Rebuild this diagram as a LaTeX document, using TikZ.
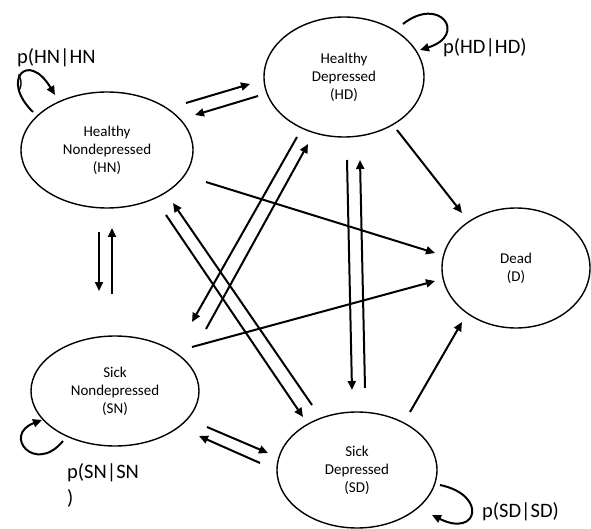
\documentclass[tikz,border=0pt]{standalone}
\usepackage{fontspec}
\setmainfont{Carlito}
\usetikzlibrary{shapes.geometric,arrows.meta}
\begin{document}
\begin{tikzpicture}[x=1pt,y=-1pt,
  state/.style={draw,ellipse,line width=1.4pt,inner sep=0pt,align=center,font=\fontsize{15}{18}\selectfont},
  conn/.style={line width=2pt,-{Triangle[length=9pt,width=8pt]}},
  plabel/.style={inner sep=0pt,anchor=west,align=left,font=\fontsize{20.5}{26}\selectfont}]
\useasboundingbox (0,0) rectangle (591,529);
% states
\node[state,minimum width=172pt,minimum height=116pt] (HN) at (107,150) {Healthy\\Nondepressed\\(HN)};
\node[state,minimum width=160pt,minimum height=120pt] (HD) at (344,77) {Healthy\\Depressed\\(HD)};
\node[state,minimum width=148pt,minimum height=120pt] (D) at (516,268) {Dead\\(D)};
\node[state,minimum width=168pt,minimum height=110pt] (SN) at (115,391) {Sick\\Nondepressed\\(SN)};
\node[state,minimum width=160pt,minimum height=116pt] (SD) at (357,470) {Sick\\Depressed\\(SD)};
% connector end points
\coordinate (hnhd1) at (186,103); \coordinate (hnhd2) at (250,84);
\coordinate (hdhn1) at (258,96);  \coordinate (hdhn2) at (195,115);
\coordinate (hnd1) at (206,182);  \coordinate (hnd2) at (435,253);
\coordinate (hdd1) at (397,130);  \coordinate (hdd2) at (462,213);
\coordinate (hdsn1) at (297,137); \coordinate (hdsn2) at (192,322);
\coordinate (snhd1) at (206,329); \coordinate (snhd2) at (308,144);
\coordinate (hnsd1) at (166,215); \coordinate (hnsd2) at (303,417);
\coordinate (sdhn1) at (312,405); \coordinate (sdhn2) at (173,203);
\coordinate (hdsd1) at (347,160); \coordinate (hdsd2) at (352,390);
\coordinate (sdhd1) at (365,388); \coordinate (sdhd2) at (360,160);
\coordinate (snd1) at (192,347);  \coordinate (snd2) at (435,281);
\coordinate (sdd1) at (410,412);  \coordinate (sdd2) at (462,322);
\coordinate (snsd1) at (207,427); \coordinate (snsd2) at (268,453);
\coordinate (sdsn1) at (260,463); \coordinate (sdsn2) at (199,436);
\coordinate (hnsn1) at (99,232);  \coordinate (hnsn2) at (99,291);
\coordinate (snhn1) at (112,294); \coordinate (snhn2) at (112,228);
% transitions
\draw[conn] (hnhd1) -- (hnhd2);
\draw[conn] (hdhn1) -- (hdhn2);
\draw[conn] (hnd1) -- (hnd2);
\draw[conn] (hdd1) -- (hdd2);
\draw[conn] (hdsn1) -- (hdsn2);
\draw[conn] (snhd1) -- (snhd2);
\draw[conn] (hnsd1) -- (hnsd2);
\draw[conn] (sdhn1) -- (sdhn2);
\draw[conn] (hdsd1) -- (hdsd2);
\draw[conn] (sdhd1) -- (sdhd2);
\draw[conn] (snd1) -- (snd2);
\draw[conn] (sdd1) -- (sdd2);
\draw[conn] (snsd1) -- (snsd2);
\draw[conn] (sdsn1) -- (sdsn2);
\draw[conn] (hnsn1) -- (hnsn2);
\draw[conn] (snhn1) -- (snhn2);
% self loops
\coordinate (hnl1) at (33,112); \coordinate (hnl2) at (55,95);
\coordinate (hdl1) at (403,24); \coordinate (hdl2) at (420,50);
\coordinate (snl1) at (63,441); \coordinate (snl2) at (42,420);
\coordinate (sdl1) at (440,485); \coordinate (sdl2) at (432,515);
\draw[conn] (hnl1) .. controls (0,80) and (28,50) .. (hnl2);
\draw[conn] (hdl1) .. controls (440,-5) and (468,35) .. (hdl2);
\draw[conn] (snl1) .. controls (35,475) and (2,435) .. (snl2);
\draw[conn] (sdl1) .. controls (488,495) and (478,538) .. (sdl2);
% labels
\node[plabel] (lhn) at (17,70) {p(HN|HN\\)};
\node[plabel] (lhd) at (443,48) {p(HD|HD)};
\node[plabel] (lsn) at (67,485) {p(SN|SN\\)};
\node[plabel] (lsd) at (482,512) {p(SD|SD)};
\end{tikzpicture}
\end{document}
